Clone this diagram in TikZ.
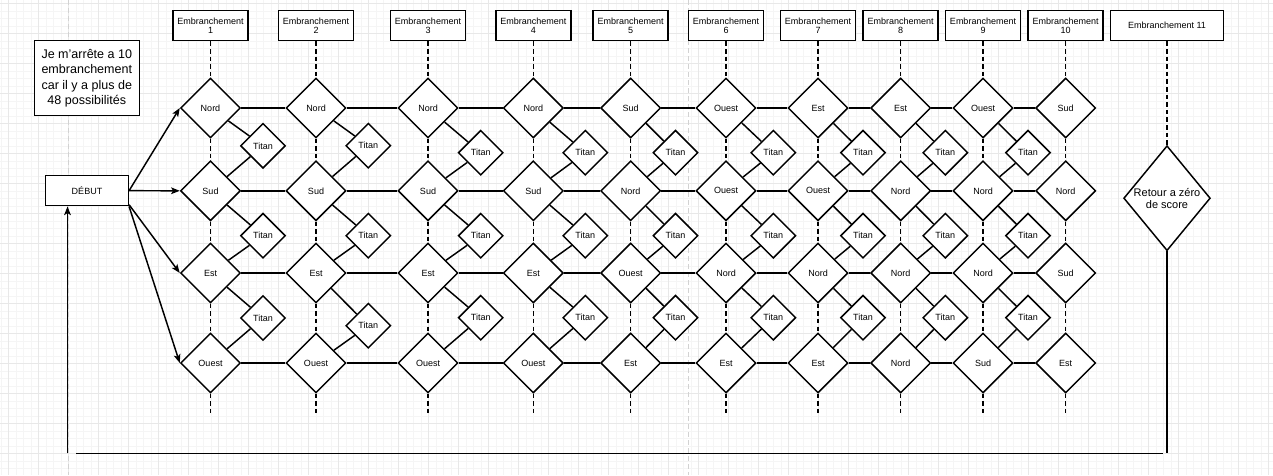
\documentclass[tikz,border=0pt]{standalone}
\usepackage{fontspec}
\setmainfont{Liberation Sans}
\usetikzlibrary{arrows.meta,positioning,shapes.geometric}

\begin{document}
\begin{tikzpicture}[
  x=0.75pt,y=-0.75pt,
  font=\fontsize{6.75}{7.3}\selectfont,
  line width=1.1pt,
  gridminor/.style={line width=0.4pt,gray!8},
  gridmajor/.style={line width=0.6pt,gray!18},
  pagebreak/.style={line width=1.1pt,gray!35,dash pattern=on 3.5pt off 2.5pt},
  headbox/.style={draw,fill=white,minimum width=56.25pt,minimum height=22.5pt,align=center,inner sep=1pt},
  choice/.style={diamond,draw,fill=white,minimum width=45pt,minimum height=45pt,inner sep=0pt},
  titan/.style={choice,minimum width=33.75pt,minimum height=33.75pt},
  notebox/.style={draw,fill=white,minimum width=78.75pt,minimum height=56.25pt,align=center,inner sep=1pt,font=\fontsize{9.4}{11.5}\selectfont},
  startbox/.style={draw,fill=white,minimum width=62pt,minimum height=22.5pt},
  guide/.style={dash pattern=on 3.4pt off 2.3pt},
  flow/.style={-{Stealth[length=6.5pt,width=5pt,inset=1.5pt]}}
]
% drawing sheet
\useasboundingbox (0,0) rectangle (1273,475);
\fill[white] (0,0) rectangle (1273,475);
\foreach \x in {0.8,8.3,...,1273} \draw[gridminor] (\x,0) -- (\x,475);
\foreach \y in {3.3,10.8,...,475} \draw[gridminor] (0,\y) -- (1273,\y);
\foreach \x in {8.3,38.3,...,1273} \draw[gridmajor] (\x,0) -- (\x,475);
\foreach \y in {3.3,33.3,...,475} \draw[gridmajor] (0,\y) -- (1273,\y);
\draw[pagebreak] (68.3,0) -- (68.3,475);
\draw[pagebreak] (688.3,0) -- (688.3,475);

% branches
\foreach \c/\x/\la/\lb/\lc/\ld in {
  1/210.5/Nord/Sud/Est/Ouest, 2/316/Nord/Sud/Est/Ouest,
  3/428/Nord/Sud/Est/Ouest, 4/533.3/Nord/Sud/Est/Ouest,
  5/630.7/Sud/Nord/Ouest/Est, 6/726/Ouest/Ouest/Nord/Est,
  7/818/Est/Ouest/Nord/Est, 8/900.7/Est/Nord/Nord/Nord,
  9/983/Ouest/Nord/Nord/Sud, 10/1065.7/Sud/Nord/Sud/Est} {
  \node[headbox] (h\c) at (\x,25.7) {Embranchement\\\c};
  \node[choice] (d\c-1) at (\x,108) {\la};
  \node[choice] (d\c-2) at (\x,190.8) {\lb};
  \node[choice] (d\c-3) at (\x,273) {\lc};
  \node[choice] (d\c-4) at (\x,363) {\ld};
  \coordinate (e\c) at (\x,414);
  \draw[guide] (h\c) -- (d\c-1);
  \draw[guide] (d\c-1) -- (d\c-2);
  \draw[guide] (d\c-2) -- (d\c-3);
  \draw[guide] (d\c-3) -- (d\c-4);
  \draw[guide] (d\c-4) -- (e\c);
}

% titans
\foreach \c/\x/\ya/\yb/\yc in {
  1/263/145.8/235.7/318, 2/368.3/145.7/235.7/325.7,
  3/480.7/152.7/235.7/317.7, 4/585.3/152.7/235.7/317.7,
  5/675.5/152.7/235.7/317.7, 6/773.3/152.7/235.7/317.7,
  7/863/152.7/235.7/317.7, 8/945.3/152.7/235.7/317.7,
  9/1028/152.7/235.7/317.7} {
  \node[titan] (t\c-1) at (\x,\ya) {Titan};
  \node[titan] (t\c-2) at (\x,\yb) {Titan};
  \node[titan] (t\c-3) at (\x,\yc) {Titan};
  \foreach \r [evaluate=\r as \s using int(\r+1)] in {1,2,3} {
    \draw (d\c-\r) -- (t\c-\r);
    \draw (t\c-\r) -- (d\c-\s);
  }
}

% rows
\foreach \c [evaluate=\c as \n using int(\c+1)] in {1,...,9}
  \foreach \r in {1,...,4}
    \draw (d\c-\r) -- (d\n-\r);

% last branch
\node[headbox,minimum width=84.5pt] (h11) at (1167,25.7) {Embranchement 11};
\node[choice,minimum width=65pt,minimum height=78.75pt,
  label={[align=center,font=\fontsize{8.25}{9.2}\selectfont]center:Retour a zéro\\de score}] (retour) at (1167,198.2) {};
\draw[guide] (h11) -- (retour);

% start and note
\node[notebox] (note) at (86.8,78.2) {Je m’arrête a 10\\embranchement\\car il y a plus de\\48 possibilités};
\node[startbox] (debut) at (87,190.7) {DÉBUT};
\draw[flow] (debut.east) -- (d1-1.west);
\draw[flow] (debut.east) -- (d1-2.west);
\draw[flow] ([yshift=1.3pt]debut.south east) -- (d1-3.west);
\draw[flow] (debut.south east) -- (d1-4.west);

% back to start
\coordinate (r1) at (1167,453.3);
\coordinate (r2) at (1162.7,453.3);
\coordinate (r3) at (76,453.3);
\coordinate (r4) at (67.5,453.3);
\draw (retour) -- (r1);
\draw (r2) -- (r3);
\draw[flow] (r4) -- (r4 |- debut.south);
\end{tikzpicture}
\end{document}
